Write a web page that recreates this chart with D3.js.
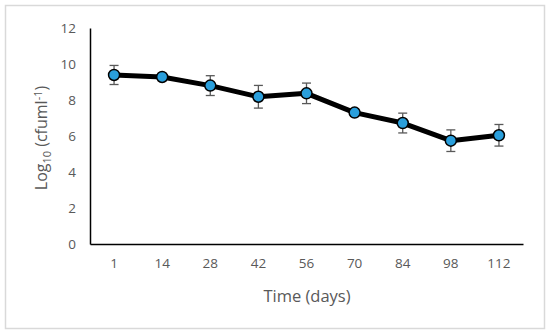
<!DOCTYPE html>
<html><head><meta charset="utf-8">
<script src="https://cdn.jsdelivr.net/npm/d3@7"></script>
<style>body{margin:0;background:#fff}svg{display:block}</style>
</head><body>
<script>
const days = ["1","14","28","42","56","70","84","98","112"];
const logValues = [9.39, 9.28, 8.80, 8.18, 8.37, 7.30, 6.72, 5.74, 6.04];
const errors = [0.53, 0.15, 0.55, 0.63, 0.57, 0.18, 0.55, 0.60, 0.60];
const yTicks = [0, 2, 4, 6, 8, 10, 12];

const W = 550, H = 336;
const svg = d3.select("body").append("svg").attr("width", W).attr("height", H);
svg.append("rect").attr("x", 5.5).attr("y", 5.5).attr("width", 539).attr("height", 323)
  .attr("fill", "#fff").attr("stroke", "#d9d9d9").attr("stroke-width", 1.5);

const x = d3.scaleBand().domain(days).range([90, 523]);
const y = d3.scaleLinear().domain([0, 12]).range([244, 28]);
const font = "'Open Sans', 'Liberation Sans', sans-serif";
const grey = "#595959";

// y axis
const ya = svg.append("g").attr("transform", "translate(90,0)")
  .call(d3.axisLeft(y).tickValues(yTicks).tickSize(0).tickPadding(14));
ya.select(".domain").attr("stroke", "#000").attr("stroke-width", 1.5);
ya.selectAll("text").attr("fill", grey).style("font-family", font).style("font-size", "13.5px");

// x axis
const xa = svg.append("g").attr("transform", "translate(0,244)")
  .call(d3.axisBottom(x).tickSize(0).tickPadding(14));
xa.select(".domain").attr("stroke", "#000").attr("stroke-width", 1.5);
xa.selectAll("text").attr("fill", grey).style("font-family", font).style("font-size", "13.5px");

// axis titles
svg.append("text").attr("x", 307).attr("y", 302).attr("text-anchor", "middle")
  .attr("fill", grey).style("font-family", font).style("font-size", "16.5px").text("Time (days)");
const yt = svg.append("text").attr("transform", "translate(47,138) rotate(-90)")
  .attr("text-anchor", "middle").attr("fill", grey).style("font-family", font).style("font-size", "16px");
yt.append("tspan").text("Log");
yt.append("tspan").attr("dy", 4).style("font-size", "11px").text("10");
yt.append("tspan").attr("dy", -4).text(" (cfuml");
yt.append("tspan").attr("dy", -5).style("font-size", "11px").text("-1");
yt.append("tspan").attr("dy", 5).text(")");

const cx = d => x(d) + x.bandwidth() / 2;
const pts = days.map((d, i) => ({d, v: logValues[i], e: errors[i]}));

// error bars
const eb = svg.append("g").attr("stroke", grey).attr("stroke-width", 1.3);
pts.forEach(p => {
  eb.append("line").attr("x1", cx(p.d)).attr("x2", cx(p.d)).attr("y1", y(p.v + p.e)).attr("y2", y(p.v - p.e));
  [p.v + p.e, p.v - p.e].forEach(v => eb.append("line")
    .attr("x1", cx(p.d) - 4.5).attr("x2", cx(p.d) + 4.5).attr("y1", y(v)).attr("y2", y(v)));
});

// line
svg.append("path").datum(pts)
  .attr("d", d3.line().x(p => cx(p.d)).y(p => y(p.v)))
  .attr("fill", "none").attr("stroke", "#000").attr("stroke-width", 5).attr("stroke-linejoin", "round");

// markers
svg.append("g").selectAll("circle").data(pts).join("circle")
  .attr("cx", p => cx(p.d)).attr("cy", p => y(p.v)).attr("r", 5.5)
  .attr("fill", "#2a9fdc").attr("stroke", "#000").attr("stroke-width", 1.5);
</script>
</body></html>
